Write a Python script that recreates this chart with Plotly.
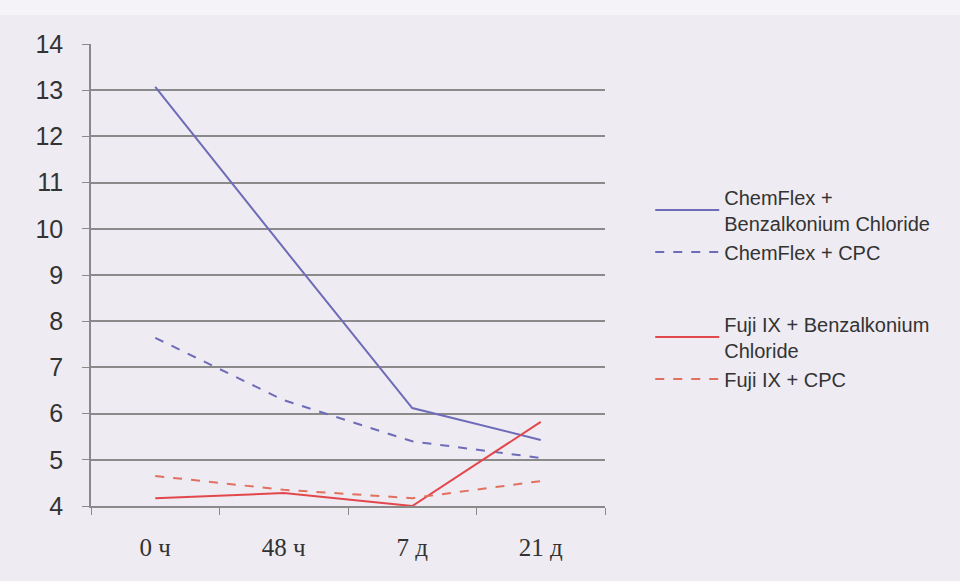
import plotly.graph_objects as go

categories = ["0 ч", "48 ч", "7 д", "21 д"]
chemflex_bac = [13.07, 9.58, 6.12, 5.43]
chemflex_cpc = [7.64, 6.29, 5.40, 5.04]
fuji_bac = [4.17, 4.28, 4.00, 5.82]
fuji_cpc = [4.65, 4.35, 4.17, 4.54]

names = [
    "ChemFlex +<br>Benzalkonium Chloride",
    "ChemFlex + CPC",
    "Fuji IX + Benzalkonium<br>Chloride",
    "Fuji IX + CPC",
]
series = [chemflex_bac, chemflex_cpc, fuji_bac, fuji_cpc]
colors = ["#6e6cb8", "#6e6cb8", "#e2474c", "#e2705e"]
dashes = ["solid", "dash", "solid", "dash"]
groups = ["chem", "chem", "fuji", "fuji"]

BG = "#eeebf2"

fig = go.Figure()
for n, s, c, d, g in zip(names, series, colors, dashes, groups):
    fig.add_trace(go.Scatter(
        x=categories, y=s, name=n, mode="lines",
        line=dict(color=c, width=2, dash=d),
        legendgroup=g,
    ))

fig.update_layout(
    width=960, height=581,
    margin=dict(l=91, r=355, t=44, b=75),
    paper_bgcolor=BG,
    plot_bgcolor=BG,
    showlegend=True,
    legend=dict(
        x=1.088, y=0.711, xanchor="left", yanchor="top",
        font=dict(family="Liberation Sans, Arial, sans-serif", size=20, color="#333333"),
        bgcolor="rgba(0,0,0,0)",
        tracegroupgap=43,
        traceorder="grouped",
        itemwidth=64,
    ),
    xaxis=dict(
        type="category",
        tickson="boundaries",
        ticks="outside", ticklen=7, tickcolor="#8a8a8a",
        showgrid=False,
        showline=True, linecolor="#8a8a8a", linewidth=1.5,
        tickfont=dict(family="Liberation Serif, Times New Roman, serif", size=25, color="#333333"),
        ticklabelstandoff=18,
        range=[-0.5, 3.5],
    ),
    yaxis=dict(
        range=[4, 14], dtick=1,
        ticks="outside", ticklen=7, tickcolor="#8a8a8a",
        showgrid=True, gridcolor="#8a8a8a", gridwidth=1.5,
        showline=True, linecolor="#8a8a8a", linewidth=1.5,
        zeroline=False,
        tickfont=dict(family="Liberation Sans, Arial, sans-serif", size=25, color="#333333"),
        ticklabelstandoff=14,
    ),
    shapes=[dict(type="rect", xref="paper", yref="paper",
                 x0=-0.2, x1=1.7, y0=1.063, y1=1.2,
                 fillcolor="#f6f3f8", line=dict(width=0), layer="below")],
)

fig.write_html(
    "out.html",
    config={"displayModeBar": False},
    post_script="document.body.style.margin='0';document.body.style.background='" + BG + "';",
)
